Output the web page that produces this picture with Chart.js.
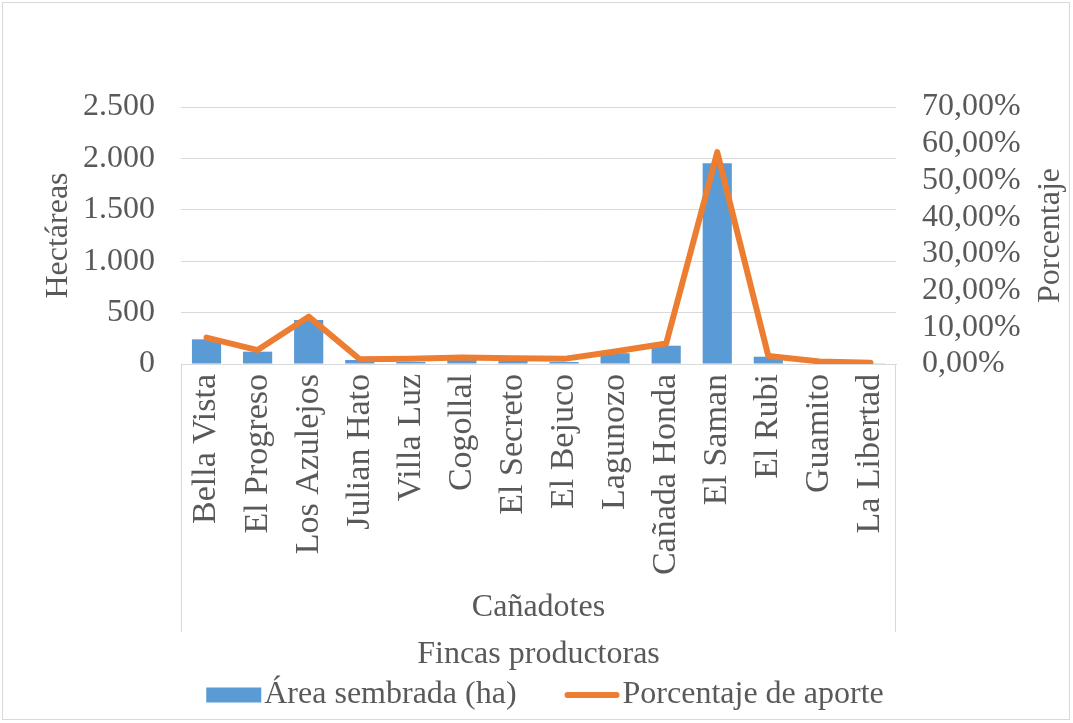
<!DOCTYPE html>
<html lang="es">
<head>
<meta charset="utf-8">
<title>Área sembrada por finca</title>
<script src="https://cdn.jsdelivr.net/npm/chart.js@4/dist/chart.umd.min.js"></script>
<style>
  html, body { margin: 0; padding: 0; background: #ffffff; }
  canvas { display: block; }
</style>
</head>
<body>
<canvas id="chart" width="1073" height="723"></canvas>
<script>
// Fincas productoras de la vereda Cañadotes
const fincas = ['Bella Vista', 'El Progreso', 'Los Azulejos', 'Julian Hato', 'Villa Luz', 'Cogollal',
  'El Secreto', 'El Bejuco', 'Lagunozo', 'Cañada Honda', 'El Saman', 'El Rubi', 'Guamito', 'La Libertad'];

// Área sembrada en hectáreas
const areaSembrada = [240, 120, 428, 39, 20, 40, 30, 20, 105, 178, 1952, 71, 5, 3];

// Porcentaje de aporte de cada finca (%)
const porcentajeAporte = [7.2, 3.8, 12.9, 1.3, 1.45, 1.8, 1.6, 1.4, 3.4, 5.6, 57.7, 2.2, 0.7, 0.35];

const grupo = 'Cañadotes';
const hectareasTicks = [0, 500, 1000, 1500, 2000, 2500];
const porcentajeTicks = [0, 10, 20, 30, 40, 50, 60, 70];

const FONT = '"Liberation Serif", "Times New Roman", serif';
const TEXT = '#595959';
const GRID = '#d9d9d9';
const AZUL = '#5b9bd5';
const NARANJA = '#ed7d31';

const fmtMiles = v => String(v).replace(/\B(?=(\d{3})+(?!\d))/g, '.');
const fmtPct = v => v.toFixed(2).replace('.', ',') + '%';

// Marco, etiqueta de grupo, título del eje derecho y leyenda
const decoraciones = {
  id: 'decoraciones',
  afterDraw(chart) {
    const ctx = chart.ctx;
    const a = chart.chartArea;
    ctx.save();

    // marco exterior
    ctx.strokeStyle = GRID;
    ctx.lineWidth = 1;
    ctx.strokeRect(2.5, 2.5, chart.width - 6, chart.height - 6);

    // líneas que delimitan el grupo de categorías
    const yFin = 632;
    ctx.beginPath();
    ctx.moveTo(Math.round(a.left) + 0.5, a.bottom);
    ctx.lineTo(Math.round(a.left) + 0.5, yFin);
    ctx.moveTo(Math.round(a.right) - 0.5, a.bottom);
    ctx.lineTo(Math.round(a.right) - 0.5, yFin);
    ctx.stroke();

    ctx.fillStyle = TEXT;
    ctx.font = '32px ' + FONT;
    ctx.textAlign = 'center';
    ctx.textBaseline = 'middle';
    ctx.fillText(grupo, (a.left + a.right) / 2, 608);

    // título del eje secundario
    ctx.save();
    ctx.translate(1051, (a.top + a.bottom) / 2);
    ctx.rotate(-Math.PI / 2);
    ctx.fillText('Porcentaje', 0, 0);
    ctx.restore();

    // leyenda
    const ds = chart.data.datasets;
    const items = [ds[1], ds[0]];
    const muestra = 55, sep = 3, entre = 48;
    ctx.font = '32px ' + FONT;
    const anchos = items.map(d => ctx.measureText(d.label).width);
    const total = anchos.reduce((s, w) => s + muestra + sep + w, 0) + entre;
    let x = 545 - total / 2;
    const yl = 695;
    items.forEach((d, i) => {
      if (d.type === 'line') {
        ctx.strokeStyle = d.borderColor;
        ctx.lineWidth = 6;
        ctx.lineCap = 'round';
        ctx.beginPath();
        ctx.moveTo(x + 3, yl);
        ctx.lineTo(x + muestra - 3, yl);
        ctx.stroke();
      } else {
        ctx.fillStyle = d.backgroundColor;
        ctx.fillRect(x, yl - 7.5, muestra, 15);
      }
      ctx.fillStyle = TEXT;
      ctx.textAlign = 'left';
      ctx.fillText(d.label, x + muestra + sep, yl);
      x += muestra + sep + anchos[i] + entre;
    });
    ctx.restore();
  }
};

new Chart(document.getElementById('chart'), {
  data: {
    labels: fincas,
    datasets: [
      {
        type: 'line',
        label: 'Porcentaje de aporte',
        data: porcentajeAporte,
        yAxisID: 'y1',
        borderColor: NARANJA,
        backgroundColor: NARANJA,
        borderWidth: 6,
        borderJoinStyle: 'round',
        borderCapStyle: 'round',
        pointRadius: 0,
        tension: 0,
        order: 0
      },
      {
        type: 'bar',
        label: 'Área sembrada (ha)',
        data: areaSembrada,
        yAxisID: 'y',
        backgroundColor: AZUL,
        borderWidth: 0,
        barPercentage: 1 / 1.75,
        categoryPercentage: 1,
        order: 1
      }
    ]
  },
  options: {
    responsive: false,
    animation: false,
    layout: { padding: { top: 107, left: 5, right: 5, bottom: 43 } },
    plugins: {
      legend: { display: false },
      tooltip: { enabled: false }
    },
    scales: {
      x: {
        grid: { display: false, drawTicks: false },
        border: { display: true, color: GRID, width: 1 },
        ticks: {
          autoSkip: false, minRotation: 90, maxRotation: 90, padding: 10,
          color: TEXT, font: { family: FONT, size: 34 }
        },
        title: {
          display: true, text: 'Fincas productoras', color: TEXT,
          font: { family: FONT, size: 32, lineHeight: 1 },
          padding: { top: 0, bottom: 9 }
        },
        afterFit(s) { s.height = 316; }
      },
      y: {
        position: 'left',
        min: 0, max: 2500,
        afterBuildTicks(s) { s.ticks = hectareasTicks.map(v => ({ value: v })); },
        ticks: { autoSkip: false, padding: 26, color: TEXT, font: { family: FONT, size: 32, lineHeight: 1 }, callback: v => fmtMiles(v) },
        grid: { color: GRID, lineWidth: 1, drawTicks: false },
        border: { display: false },
        title: {
          display: true, text: 'Hectáreas', color: TEXT,
          font: { family: FONT, size: 32, lineHeight: 1.2 },
          padding: { top: 34, bottom: 0 }
        },
        afterFit(s) { s.width = 176; }
      },
      y1: {
        position: 'right',
        min: 0, max: 70,
        afterBuildTicks(s) { s.ticks = porcentajeTicks.map(v => ({ value: v })); },
        ticks: { autoSkip: false, padding: 26, color: TEXT, font: { family: FONT, size: 32, lineHeight: 1 }, callback: v => fmtPct(v) },
        grid: { display: false, drawTicks: false },
        border: { display: false },
        afterFit(s) { s.width = 172; }
      }
    }
  },
  plugins: [decoraciones]
});
</script>
</body>
</html>
